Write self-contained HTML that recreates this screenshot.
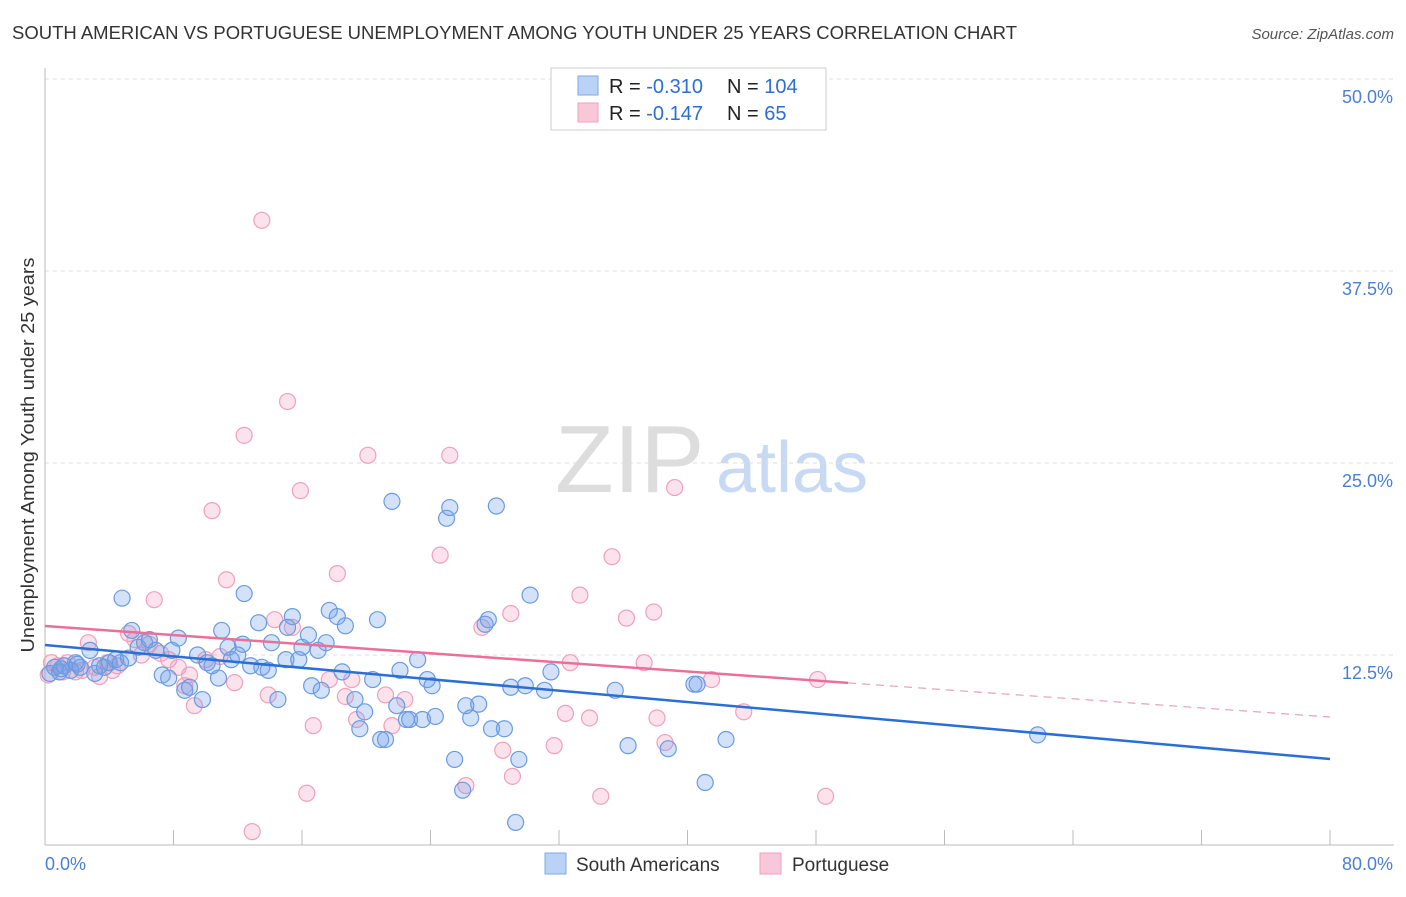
<!DOCTYPE html>
<html><head><meta charset="utf-8"><style>
body{margin:0;background:#fff;font-family:"Liberation Sans",sans-serif;}
svg text{font-family:"Liberation Sans",sans-serif;}
</style></head><body>
<svg id="chart" width="1406" height="892" xmlns="http://www.w3.org/2000/svg">
<text x="12" y="39" font-size="18" fill="#333" textLength="1005" lengthAdjust="spacingAndGlyphs">SOUTH AMERICAN VS PORTUGUESE UNEMPLOYMENT AMONG YOUTH UNDER 25 YEARS CORRELATION CHART</text>
<text x="1394" y="39" font-size="15" fill="#555" text-anchor="end" font-style="italic">Source: ZipAtlas.com</text>
<g>
<text x="555" y="492" font-size="96" fill="#ddd" font-family="Liberation Serif,serif">ZIP</text>
<text x="716" y="492" font-size="72" fill="#c8daf3">atlas</text>
</g>
<g id="grid"></g>
<g id="axes"></g>
<g id="pts"></g>
<g id="lines"></g>
<g>
<rect x="551" y="68" width="275" height="62" fill="#fff" stroke="#ccc"/>
<rect x="578" y="76" width="20" height="19" fill="#b9d2f5" stroke="#7fa8e6"/>
<rect x="578" y="103" width="20" height="19" fill="#f9c8d8" stroke="#f0a0bb"/>
<text x="609" y="93" font-size="20" fill="#222">R = <tspan fill="#2a6fd6">-0.310</tspan></text>
<text x="727" y="93" font-size="20" fill="#222">N = <tspan fill="#2a6fd6">104</tspan></text>
<text x="609" y="120" font-size="20" fill="#222">R = <tspan fill="#2a6fd6"> -0.147</tspan></text>
<text x="727" y="120" font-size="20" fill="#222">N = <tspan fill="#2a6fd6">  65</tspan></text>
</g>
<g>
<rect x="545" y="853" width="21" height="21" fill="#b9d2f5" stroke="#7fa8e6"/>
<text x="576" y="871" font-size="19" fill="#333">South Americans</text>
<rect x="760" y="853" width="21" height="21" fill="#f9c8d8" stroke="#f0a0bb"/>
<text x="792" y="871" font-size="19" fill="#333">Portuguese</text>
</g>
<text transform="translate(34,455) rotate(-90)" font-size="18" fill="#333" text-anchor="middle" textLength="395" lengthAdjust="spacingAndGlyphs">Unemployment Among Youth under 25 years</text>
</svg>
<script>
const blueX=[0.6,0.9,1.2,1.6,1.9,2.2,2.8,3.1,3.4,3.7,4.0,4.4,4.7,4.8,5.2,5.4,5.8,6.2,6.5,6.9,7.3,7.7,7.9,8.3,8.7,9.0,9.5,9.8,10.1,10.4,10.8,11.0,11.4,11.6,12.0,12.3,12.4,12.8,13.3,13.5,13.9,14.1,14.5,15.0,15.1,15.4,15.8,16.0,16.4,16.6,17.0,17.2,17.5,17.7,18.2,18.7,18.5,19.3,19.6,19.9,20.4,20.7,20.9,21.2,21.6,21.9,22.1,22.5,22.7,23.2,23.5,23.8,24.1,24.3,25.0,25.2,25.5,26.0,26.2,26.5,27.0,27.4,27.6,27.8,28.1,28.6,29.0,29.3,29.5,29.9,30.2,31.1,31.5,35.5,36.3,38.8,40.4,40.6,41.1,42.4,61.8,0.3,1.0,2.0];
const blueY=[11.7,11.4,11.8,11.5,12.0,11.7,12.8,11.3,11.8,11.7,12.0,12.2,12.0,16.2,12.3,14.1,13.0,13.3,13.5,12.8,11.2,11.0,12.8,13.6,10.2,10.4,12.5,9.6,12.0,11.8,11.0,14.1,13.0,12.2,12.5,13.2,16.5,11.8,14.6,11.7,11.5,13.3,9.6,12.2,14.3,15.0,12.2,13.0,13.8,10.5,12.8,10.2,13.3,15.4,15.0,14.4,11.4,9.6,7.7,8.8,10.9,14.8,7.0,7.0,22.5,9.2,11.5,8.3,8.3,12.2,8.3,10.9,10.5,8.5,21.4,22.1,5.7,3.7,9.2,8.4,9.3,14.5,14.8,7.7,22.2,7.7,10.4,1.6,5.7,10.5,16.4,10.2,11.4,10.2,6.6,6.4,10.6,10.6,4.2,7.0,7.3,11.3,11.6,11.9];
const pinkX=[0.2,0.4,0.8,1.1,1.4,1.9,2.3,2.7,3.1,3.4,3.9,4.2,4.5,5.2,5.6,6.0,6.5,6.8,7.2,7.7,8.3,8.7,9.0,9.3,10.0,10.4,10.9,11.3,11.8,12.4,12.9,13.5,13.9,14.3,15.1,15.4,15.9,16.3,16.7,17.7,18.2,18.7,19.1,19.4,20.1,21.2,21.6,22.4,24.6,25.2,26.2,27.2,28.5,29.0,29.1,31.7,32.4,32.7,33.3,33.9,34.6,35.3,36.2,37.3,37.9,38.1,38.6,39.2,41.5,43.5,48.1,48.6];
const pinkY=[11.2,12.0,11.8,11.4,12.0,11.4,11.5,13.3,11.7,11.1,12.0,11.5,11.8,13.9,13.5,12.5,13.2,16.1,12.6,12.2,11.7,10.5,11.2,9.2,12.2,21.9,12.4,17.4,10.7,26.8,1.0,40.8,9.9,14.8,29.0,14.3,23.2,3.5,7.9,10.9,17.8,9.8,10.9,8.3,25.5,9.9,7.9,9.6,19.0,25.5,4.0,14.3,6.3,15.2,4.6,6.6,8.7,12.0,16.4,8.4,3.3,18.9,14.9,12.0,15.3,8.4,6.8,23.4,10.9,8.8,10.9,3.3];
const yTicks=[12.5,25.0,37.5,50.0];
const xTicks=[0,8,16,24,32,40,48,56,64,72,80];
const blueTrend=[13.15,-0.0928];
const pinkTrend=[14.39,-0.0741];
const pinkSolidEnd=50;
const NS="http://www.w3.org/2000/svg";
const X=v=>45+v*1285/80, Y=v=>847-v*768/50;
function mk(t,a,p){const e=document.createElementNS(NS,t);for(const k in a)e.setAttribute(k,a[k]);p.appendChild(e);return e;}
const grid=document.getElementById('grid'),axes=document.getElementById('axes'),pts=document.getElementById('pts'),lines=document.getElementById('lines');
yTicks.forEach(v=>{const l=mk('line',{x1:45,x2:1394,y1:Y(v),y2:Y(v),stroke:'#ddd','stroke-dasharray':'4,4'},grid);


const t=mk('text',{x:1393,y:Y(v)+24,'font-size':18,fill:'#4a7fd6','text-anchor':'end'},axes);t.textContent=v.toFixed(1)+'%';

});
mk('line',{x1:45,x2:45,y1:68,y2:845,stroke:'#bbb'},axes);
mk('line',{x1:45,x2:1394,y1:845,y2:845,stroke:'#bbb'},axes);
xTicks.forEach(v=>{const l=mk('line',{x1:X(v),x2:X(v),y1:830,y2:845,stroke:'#bbb'},axes);

});
const xl=mk('text',{x:45,y:870,'font-size':18,fill:'#4a7fd6'},axes);xl.textContent=xTicks[0].toFixed(1)+'%';


const xr=mk('text',{x:1393,y:870,'font-size':18,fill:'#4a7fd6','text-anchor':'end'},axes);xr.textContent=xTicks[xTicks.length-1].toFixed(1)+'%';


pinkX.forEach((x,i)=>{const c=mk('circle',{cx:X(x),cy:Y(pinkY[i]),r:8,fill:'rgba(244,160,190,0.3)',stroke:'#f0a0bb','stroke-width':1.2},pts);

});
blueX.forEach((x,i)=>{const c=mk('circle',{cx:X(x),cy:Y(blueY[i]),r:8,fill:'rgba(110,160,235,0.3)',stroke:'#6a9be0','stroke-width':1.2},pts);

});
const bl=mk('line',{x1:X(0),y1:Y(blueTrend[0]),x2:X(80),y2:Y(blueTrend[0]+blueTrend[1]*80),stroke:'#2a6fd6','stroke-width':2.5},lines);


const pl=mk('line',{x1:X(0),y1:Y(pinkTrend[0]),x2:X(pinkSolidEnd),y2:Y(pinkTrend[0]+pinkTrend[1]*pinkSolidEnd),stroke:'#e8709a','stroke-width':2.5},lines);


const pd=mk('line',{x1:X(pinkSolidEnd),y1:Y(pinkTrend[0]+pinkTrend[1]*pinkSolidEnd),x2:X(80),y2:Y(pinkTrend[0]+pinkTrend[1]*80),stroke:'#e8a0b8','stroke-width':1.2,'stroke-dasharray':'8,6'},lines);


</script>
</body></html>
